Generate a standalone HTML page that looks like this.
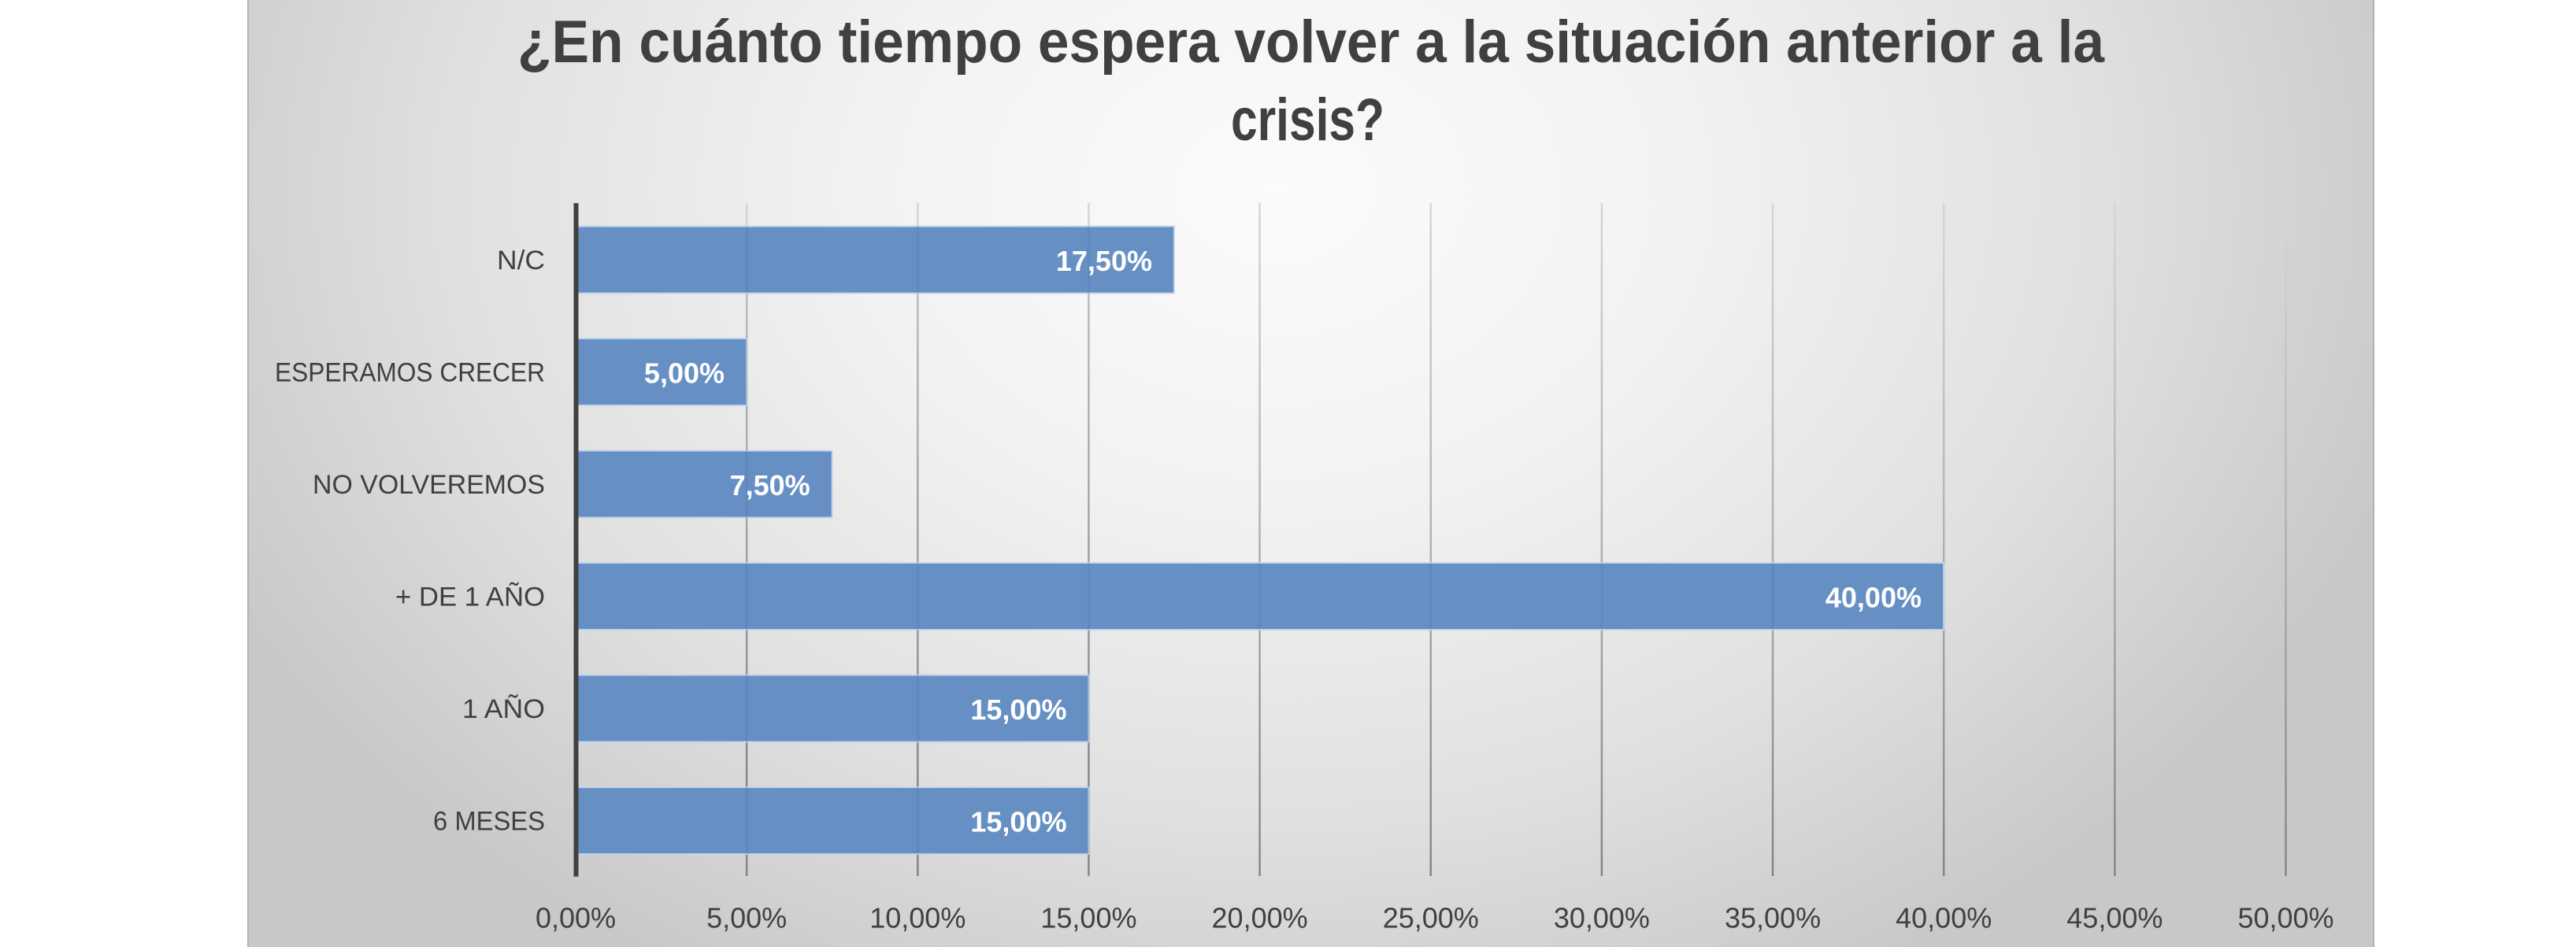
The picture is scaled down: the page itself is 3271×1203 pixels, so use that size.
<!DOCTYPE html>
<html>
<head>
<meta charset="utf-8">
<style>
  html, body { margin:0; padding:0; background:#ffffff; }
  body { width:3271px; height:1203px; overflow:hidden; }
  svg { display:block; }
</style>
</head>
<body>
<svg width="3271" height="1203" viewBox="0 0 3271 1203" xmlns="http://www.w3.org/2000/svg">
  <defs>
    <radialGradient id="bg" gradientUnits="userSpaceOnUse" cx="0" cy="0" r="1" gradientTransform="translate(1620,240) scale(1500,1150)">
      <stop offset="0" stop-color="#fbfbfb"/>
      <stop offset="0.35" stop-color="#f2f2f2"/>
      <stop offset="0.7" stop-color="#e0e0e0"/>
      <stop offset="1" stop-color="#c8c8c8"/>
    </radialGradient>
    <linearGradient id="grid" gradientUnits="userSpaceOnUse" x1="0" y1="258" x2="0" y2="1113">
      <stop offset="0" stop-color="#d6d6d6"/>
      <stop offset="0.5" stop-color="#b0b0b0"/>
      <stop offset="1" stop-color="#858585"/>
    </linearGradient>
  </defs>

  <rect x="0" y="0" width="3271" height="1203" fill="#ffffff"/>
  <rect x="314" y="0" width="2701" height="1203" fill="url(#bg)"/>
  <line x1="315" y1="0" x2="315" y2="1203" stroke="#b2b2b2" stroke-width="2"/>
  <line x1="3014" y1="0" x2="3014" y2="1203" stroke="#b2b2b2" stroke-width="2"/>

  <g font-family="'Liberation Sans', Arial, sans-serif" font-weight="bold" font-size="76" fill="#404040">
    <text x="657" y="79" textLength="2015" lengthAdjust="spacingAndGlyphs">¿En cuánto tiempo espera volver a la situación anterior a la</text>
    <text x="1563" y="178" textLength="195" lengthAdjust="spacingAndGlyphs">crisis?</text>
  </g>

  <g stroke="url(#grid)" stroke-width="2.5">
    <line x1="948.15" y1="258" x2="948.15" y2="1113"/>
    <line x1="1165.3" y1="258" x2="1165.3" y2="1113"/>
    <line x1="1382.45" y1="258" x2="1382.45" y2="1113"/>
    <line x1="1599.6" y1="258" x2="1599.6" y2="1113"/>
    <line x1="1816.75" y1="258" x2="1816.75" y2="1113"/>
    <line x1="2033.9" y1="258" x2="2033.9" y2="1113"/>
    <line x1="2251.05" y1="258" x2="2251.05" y2="1113"/>
    <line x1="2468.2" y1="258" x2="2468.2" y2="1113"/>
    <line x1="2685.35" y1="258" x2="2685.35" y2="1113"/>
    <line x1="2902.5" y1="258" x2="2902.5" y2="1113"/>
  </g>

  <g fill="#6690c4" stroke="#c3d4ea" stroke-width="2">
    <rect x="731" y="287.5" width="760.0" height="85"/>
    <rect x="731" y="430" width="217.15" height="85"/>
    <rect x="731" y="572.5" width="325.7" height="85"/>
    <rect x="731" y="715" width="1737.2" height="85"/>
    <rect x="731" y="857.5" width="651.45" height="85"/>
    <rect x="731" y="1000" width="651.45" height="85"/>
  </g>

  <g stroke="#2a4a7a" stroke-opacity="0.12" stroke-width="2.5">
    <line x1="948.15" y1="287" x2="948.15" y2="1086"/>
    <line x1="1165.3" y1="287" x2="1165.3" y2="1086"/>
    <line x1="1382.45" y1="287" x2="1382.45" y2="1086"/>
    <line x1="1599.6" y1="715" x2="1599.6" y2="800"/>
    <line x1="1816.75" y1="715" x2="1816.75" y2="800"/>
    <line x1="2033.9" y1="715" x2="2033.9" y2="800"/>
    <line x1="2251.05" y1="715" x2="2251.05" y2="800"/>
  </g>

  <line x1="731.5" y1="258" x2="731.5" y2="1113.5" stroke="#404040" stroke-width="6"/>

  <g font-family="'Liberation Sans', Arial, sans-serif" font-size="34" fill="#404040" text-anchor="end">
    <text x="692" y="342" textLength="61" lengthAdjust="spacingAndGlyphs">N/C</text>
    <text x="692" y="484.5" textLength="343" lengthAdjust="spacingAndGlyphs">ESPERAMOS CRECER</text>
    <text x="692" y="627" textLength="295" lengthAdjust="spacingAndGlyphs">NO VOLVEREMOS</text>
    <text x="692" y="769.5" textLength="190" lengthAdjust="spacingAndGlyphs">+ DE 1 AÑO</text>
    <text x="692" y="912" textLength="105" lengthAdjust="spacingAndGlyphs">1 AÑO</text>
    <text x="692" y="1054.5" textLength="142" lengthAdjust="spacingAndGlyphs">6 MESES</text>
  </g>

  <g font-family="'Liberation Sans', Arial, sans-serif" font-size="36" font-weight="bold" fill="#ffffff" text-anchor="end">
    <text x="1463" y="344">17,50%</text>
    <text x="920" y="486.5">5,00%</text>
    <text x="1028.7" y="629">7,50%</text>
    <text x="2440" y="771.5">40,00%</text>
    <text x="1354.5" y="914">15,00%</text>
    <text x="1354.5" y="1056.5">15,00%</text>
  </g>

  <g font-family="'Liberation Sans', Arial, sans-serif" font-size="36" fill="#404040" text-anchor="middle">
    <text x="731" y="1178.5">0,00%</text>
    <text x="948.15" y="1178.5">5,00%</text>
    <text x="1165.3" y="1178.5">10,00%</text>
    <text x="1382.45" y="1178.5">15,00%</text>
    <text x="1599.6" y="1178.5">20,00%</text>
    <text x="1816.75" y="1178.5">25,00%</text>
    <text x="2033.9" y="1178.5">30,00%</text>
    <text x="2251.05" y="1178.5">35,00%</text>
    <text x="2468.2" y="1178.5">40,00%</text>
    <text x="2685.35" y="1178.5">45,00%</text>
    <text x="2902.5" y="1178.5">50,00%</text>
  </g>
</svg>
</body>
</html>
